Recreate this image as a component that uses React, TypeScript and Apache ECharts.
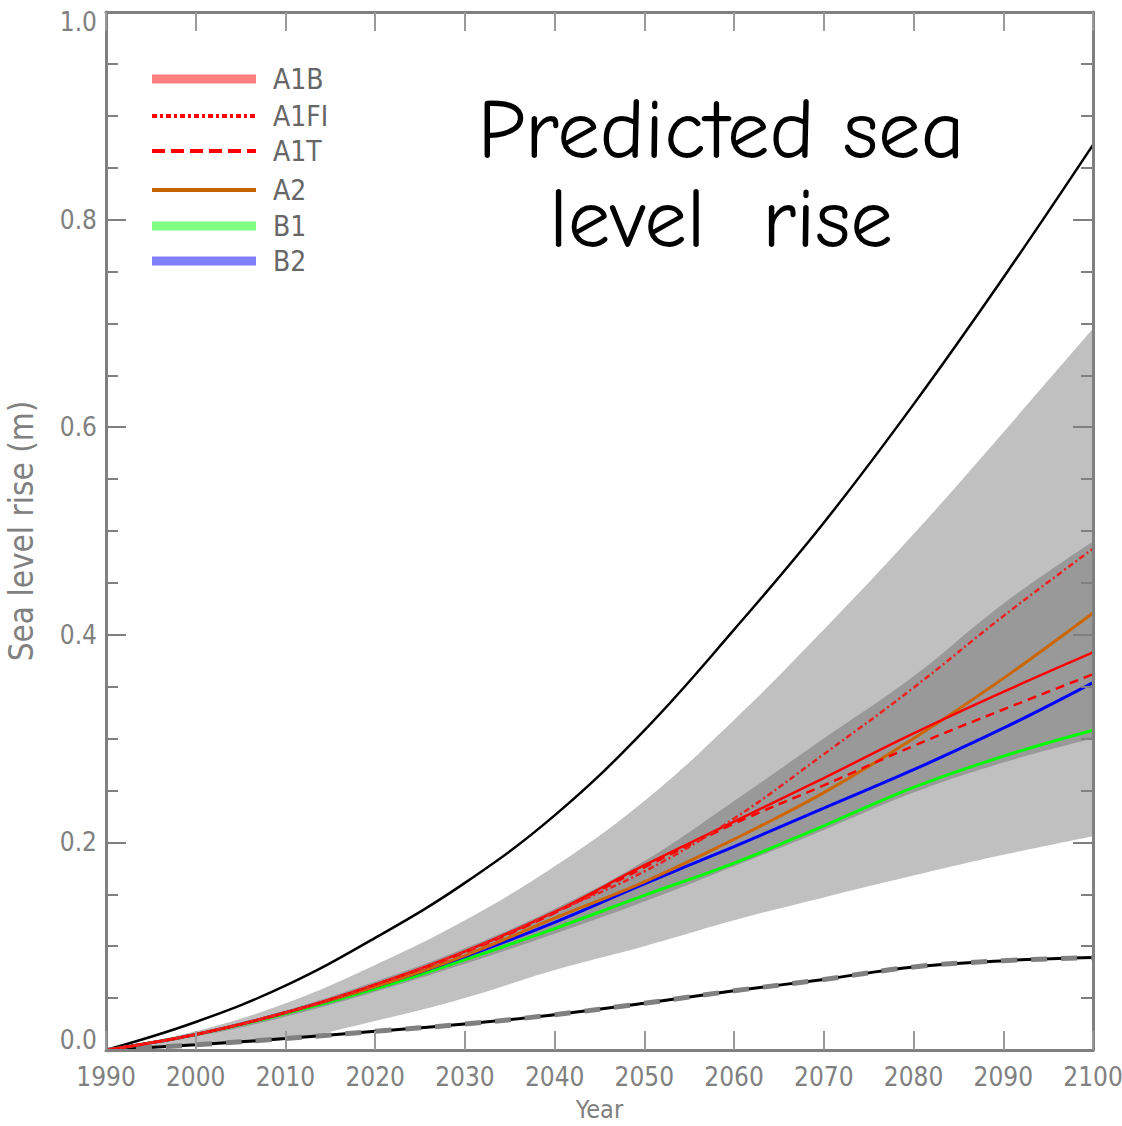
import React, { useEffect, useRef } from "react";
import * as echarts from "echarts";

const years = [1990, 2000, 2010, 2020, 2030, 2040, 2050, 2060, 2070, 2080, 2090, 2100];

// envelope curves (black)
const upperBound = [0, 0.027, 0.062, 0.108, 0.161, 0.226, 0.308, 0.405, 0.508, 0.622, 0.744, 0.872];
const lowerBound = [0, 0.005, 0.011, 0.018, 0.025, 0.034, 0.045, 0.057, 0.068, 0.08, 0.086, 0.089];

// light gray band
const lightLow = [0, 0.005, 0.01, 0.028, 0.05, 0.077, 0.1, 0.125, 0.147, 0.168, 0.188, 0.206];
const lightHigh = [0, 0.018, 0.045, 0.082, 0.125, 0.177, 0.24, 0.318, 0.405, 0.497, 0.595, 0.695];

// dark gray band
const darkLow = [0, 0.013, 0.032, 0.056, 0.083, 0.112, 0.143, 0.177, 0.212, 0.248, 0.277, 0.3];
const darkHigh = [0, 0.016, 0.038, 0.066, 0.098, 0.136, 0.182, 0.24, 0.3, 0.36, 0.43, 0.49];

// scenarios
const a1b = [0, 0.015, 0.036, 0.063, 0.095, 0.133, 0.178, 0.22, 0.262, 0.305, 0.345, 0.383];
const a1fi = [0, 0.015, 0.036, 0.063, 0.095, 0.133, 0.172, 0.223, 0.285, 0.349, 0.418, 0.483];
const a1t = [0, 0.015, 0.036, 0.063, 0.094, 0.132, 0.176, 0.218, 0.255, 0.293, 0.328, 0.362];
const a2 = [0, 0.015, 0.036, 0.061, 0.091, 0.127, 0.162, 0.203, 0.248, 0.3, 0.358, 0.421];
const b1 = [0, 0.015, 0.035, 0.059, 0.087, 0.117, 0.149, 0.18, 0.216, 0.253, 0.283, 0.308];
const b2 = [0, 0.015, 0.036, 0.061, 0.09, 0.123, 0.16, 0.196, 0.233, 0.27, 0.31, 0.354];

const legendItems = [
  { name: "A1B", color: "#ff8080", width: 9, dash: null as number[] | null },
  { name: "A1FI", color: "#ff0000", width: 4, dash: [5, 3, 3, 3] },
  { name: "A1T", color: "#ff0000", width: 4, dash: [13, 6] },
  { name: "A2", color: "#c86400", width: 4, dash: null },
  { name: "B1", color: "#80ff80", width: 9, dash: null },
  { name: "B2", color: "#8080ff", width: 9, dash: null },
];

const pairs = (vals: number[]) => years.map((y, i) => [y, vals[i]]);

const AXIS_FONT = "'Liberation Sans Narrow', 'DejaVu Sans Condensed', 'Arial Narrow', sans-serif";
const AXIS_GRAY = "#808080";
const TITLE_FONT = "85px 'Comic Sans MS', 'Comic Neue', 'Open Sans', sans-serif";

export default function App() {
  const ref = useRef<HTMLDivElement>(null);
  useEffect(() => {
    if (!ref.current) return;
    const chart = echarts.init(ref.current, undefined, { renderer: "svg" });

    const axisLineStyle = { color: AXIS_GRAY, width: 3 };
    const yAxisBase = {
      type: "value" as const,
      min: 0,
      max: 1,
      interval: 0.2,
      z: 30,
      splitLine: { show: false },
      axisLine: { show: true, lineStyle: axisLineStyle },
      axisTick: { show: true, inside: true, length: 20, lineStyle: { color: AXIS_GRAY, width: 2 } },
      minorTick: { show: true, splitNumber: 4, length: 12, lineStyle: { color: AXIS_GRAY, width: 2 } },
    };
    const xAxisBase = {
      type: "value" as const,
      min: 1990,
      max: 2100,
      interval: 10,
      z: 30,
      splitLine: { show: false },
      axisLine: { show: true, onZero: false, lineStyle: axisLineStyle },
      axisTick: { show: true, inside: true, length: 19, lineStyle: { color: "#9a9a9a", width: 2 } },
    };

    const line = (name: string, data: number[], color: string, width: number, type: any, z: number) => ({
      name,
      type: "line",
      data: pairs(data),
      showSymbol: false,
      symbol: "none",
      smooth: 0.4,
      lineStyle: { color, width, type },
      z,
    });

    const fill = (name: string, data: number[], color: string, z: number) => ({
      name,
      type: "line",
      data: pairs(data),
      showSymbol: false,
      symbol: "none",
      smooth: 0.4,
      lineStyle: { width: 0, color },
      areaStyle: { color, opacity: 1, origin: "start" },
      z,
      silent: true,
    });

    const labelRich = {
      lo: { color: AXIS_GRAY, fontFamily: AXIS_FONT, fontSize: 26, padding: [0, 0, 20, 0] },
      hi: { color: AXIS_GRAY, fontFamily: AXIS_FONT, fontSize: 26, padding: [20, 0, 0, 0] },
    };

    const option: any = {
      animation: false,
      backgroundColor: "#ffffff",
      grid: {
        left: 106,
        right: 29,
        top: 12,
        bottom: 76,
        containLabel: false,
        outerBoundsMode: "none",
      },
      xAxis: [
        {
          ...xAxisBase,
          position: "bottom",
          name: "Year",
          nameLocation: "middle",
          nameGap: 47,
          nameTextStyle: { color: AXIS_GRAY, fontFamily: AXIS_FONT, fontSize: 25 },
          axisLabel: {
            show: true,
            margin: 14,
            color: AXIS_GRAY,
            fontFamily: AXIS_FONT,
            fontSize: 26,
            showMinLabel: true,
            showMaxLabel: true,
            formatter: (v: number) => String(v),
          },
        },
        { ...xAxisBase, position: "top", axisLabel: { show: false } },
      ],
      yAxis: [
        {
          ...yAxisBase,
          position: "left",
          name: "Sea level rise (m)",
          nameLocation: "middle",
          nameGap: 68,
          nameTextStyle: { color: AXIS_GRAY, fontFamily: AXIS_FONT, fontSize: 33 },
          axisLabel: {
            show: true,
            margin: 9,
            color: AXIS_GRAY,
            fontFamily: AXIS_FONT,
            fontSize: 26,
            formatter: (v: number) =>
              v === 0 ? "{lo|0.0}" : v === 1 ? "{hi|1.0}" : v.toFixed(1),
            rich: labelRich,
          },
        },
        { ...yAxisBase, position: "right", axisLabel: { show: false } },
      ],
      series: [
        // bands, layered
        fill("lightHigh", lightHigh, "#c0c0c0", 1),
        fill("darkHigh", darkHigh, "#999999", 2),
        fill("darkLow", darkLow, "#c0c0c0", 3),
        fill("lightLow", lightLow, "#ffffff", 4),
        // envelopes
        line("Upper bound", upperBound, "#000000", 2.5, "solid", 5),
        line("Lower bound", lowerBound, "#000000", 3, "solid", 5),
        line("Lower bound dash", lowerBound, "#808080", 5, [16, 14], 6),
        // scenarios
        line("B1", b1, "#00ff00", 3, "solid", 7),
        line("B2", b2, "#0000ff", 3, "solid", 8),
        line("A2", a2, "#cc6600", 3, "solid", 9),
        line("A1T", a1t, "#ff0000", 2.5, [9, 6], 10),
        line("A1B", a1b, "#ff0000", 2.5, "solid", 10),
        line("A1FI", a1fi, "#ee2020", 2.5, [6, 3, 2, 3], 11),
      ],
      graphic: [
        ...legendItems.flatMap((it, i) => {
          const ys = [79, 116, 151, 190, 226, 261];
          const y = ys[i];
          const l: any = {
            type: "line",
            shape: { x1: 152, y1: y, x2: 256, y2: y },
            style: { stroke: it.color, lineWidth: it.width, lineDash: it.dash || undefined },
            z: 100,
          };
          const t: any = {
            type: "text",
            x: 273,
            y: y,
            style: {
              text: it.name,
              fill: "#666666",
              font: `28px ${AXIS_FONT}`,
              textAlign: "left",
              textVerticalAlign: "middle",
            },
            z: 100,
          };
          return [l, t];
        }),
        {
          type: "text",
          x: 721,
          y: 130,
          style: {
            text: "Predicted sea",
            fill: "#000000",
            font: TITLE_FONT,
            textAlign: "center",
            textVerticalAlign: "middle",
          },
          z: 100,
        },
        {
          type: "text",
          x: 721,
          y: 219,
          style: {
            text: "level  rise",
            fill: "#000000",
            font: TITLE_FONT,
            textAlign: "center",
            textVerticalAlign: "middle",
          },
          z: 100,
        },
      ],
    };

    chart.setOption(option);
    return () => chart.dispose();
  }, []);

  return (
    <div
      ref={ref}
      style={{ position: "fixed", left: 0, top: 0, width: 1122, height: 1126, background: "#ffffff" }}
    />
  );
}
